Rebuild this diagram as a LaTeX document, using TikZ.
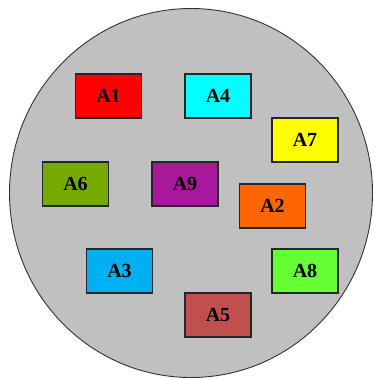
\documentclass[tikz,border=0pt]{standalone}
\usepackage{fontspec}
\setmainfont{Liberation Serif}
\definecolor{plate}{HTML}{C0C0C0}
\definecolor{cA1}{HTML}{FF0000}
\definecolor{cA2}{HTML}{FF6600}
\definecolor{cA3}{HTML}{00B0F0}
\definecolor{cA4}{HTML}{00FFFF}
\definecolor{cA5}{HTML}{C0504D}
\definecolor{cA6}{HTML}{77AA00}
\definecolor{cA7}{HTML}{FFFF00}
\definecolor{cA8}{HTML}{66FF33}
\definecolor{cA9}{HTML}{A8189A}
\tikzset{agent/.style={draw=black!85,line width=1.2pt,minimum width=66pt,minimum height=44pt,inner sep=0pt,font=\fontsize{20}{20}\selectfont\bfseries}}

\begin{document}
\begin{tikzpicture}[x=1pt,y=-1pt]
\useasboundingbox (0,0) rectangle (374,379);
\draw[fill=plate,draw=black!80,line width=0.9pt] (191,193) ellipse [x radius=181.5,y radius=184.5];
\foreach \n/\x/\y in {A1/108.5/96,A4/218/96,A7/305/140,A6/75.5/184,A9/185/184,A2/272.5/206,A3/119.5/271,A8/305/271,A5/218/315}
  {\node[agent,fill=c\n] (\n) at (\x,\y) {\n};}
\end{tikzpicture}
\end{document}
